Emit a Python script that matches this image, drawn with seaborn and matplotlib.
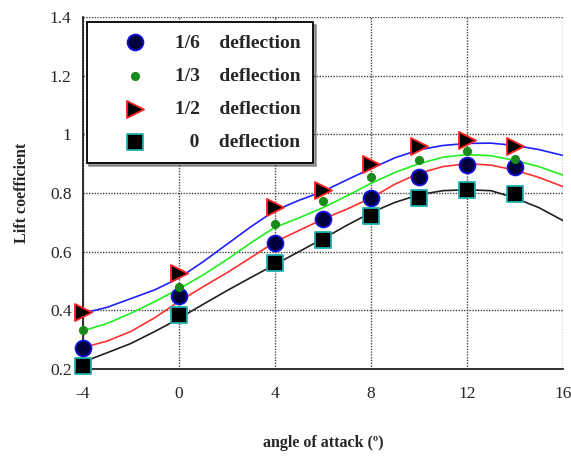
import matplotlib
matplotlib.use("Agg")
import matplotlib.pyplot as plt
import seaborn as sns
import pandas as pd

sns.set_style("white")
plt.rcParams['font.family'] = ['Liberation Serif', 'DejaVu Serif']
plt.rcParams['axes.unicode_minus'] = False

# measured points (angle of attack, lift coefficient)
alpha_pts = [-4, 0, 4, 6, 8, 10, 12, 14]
cl_sixth = [0.272, 0.45, 0.63, 0.711, 0.783, 0.856, 0.894, 0.889]
cl_third = [0.333, 0.48, 0.694, 0.774, 0.856, 0.911, 0.944, 0.917]
cl_half = [0.394, 0.528, 0.753, 0.811, 0.90, 0.959, 0.98, 0.961]
cl_zero = [0.21, 0.383, 0.561, 0.639, 0.722, 0.783, 0.811, 0.798]

# fitted curves
alpha_fit = list(range(-4, 17))
fit_blue = [0.39, 0.41, 0.44, 0.47, 0.51, 0.565, 0.625, 0.685, 0.74, 0.775, 0.805,
            0.845, 0.883, 0.92, 0.947, 0.962, 0.969, 0.97, 0.962, 0.948, 0.928]
fit_green = [0.33, 0.355, 0.39, 0.43, 0.473, 0.52, 0.573, 0.63, 0.683, 0.715, 0.75,
             0.79, 0.833, 0.87, 0.90, 0.922, 0.931, 0.927, 0.911, 0.89, 0.861]
fit_red = [0.273, 0.295, 0.328, 0.375, 0.43, 0.48, 0.528, 0.58, 0.633, 0.672, 0.711,
           0.745, 0.783, 0.83, 0.867, 0.89, 0.90, 0.895, 0.878, 0.853, 0.822]
fit_black = [0.224, 0.255, 0.287, 0.328, 0.372, 0.42, 0.467, 0.512, 0.556, 0.60, 0.644,
             0.69, 0.733, 0.768, 0.794, 0.808, 0.811, 0.808, 0.783, 0.75, 0.706]

fig, ax = plt.subplots(figsize=(5.71, 4.59), dpi=100)
fig.subplots_adjust(left=0.145, right=0.986, bottom=0.196, top=0.963)

# curves
for fit, col in [(fit_blue, '#2020ff'), (fit_green, '#20ee20'),
                 (fit_red, '#ff3030'), (fit_black, '#202020')]:
    sns.lineplot(x=alpha_fit, y=fit, ax=ax, color=col, linewidth=1.2, zorder=2)

# markers
series = [
    (cl_sixth, 'o', 130, '#00003a', '#1010e0', '1/6    deflection'),
    (cl_third, 'o', 28, '#1a8a1a', '#1a8a1a', '1/3    deflection'),
    (cl_half, '>', 150, '#000000', '#ff2020', '1/2    deflection'),
    (cl_zero, 's', 120, '#000000', '#20b0b0', '   0    deflection'),
]
handles = []
for vals, mk, sz, fc, ec, lab in series:
    sns.scatterplot(x=alpha_pts, y=vals, ax=ax, marker=mk, s=sz, color=fc,
                    edgecolor=ec, linewidth=1.3, zorder=3)
    ax.collections[-1].set_clip_on(False)
    handles.append(ax.collections[-1])
labels = [s[5] for s in series]

ax.set_xlim(-4, 16)
ax.set_ylim(0.2, 1.4)
ax.set_xticks([-4, 0, 4, 8, 12, 16])
ax.set_yticks([0.2, 0.4, 0.6, 0.8, 1.0, 1.2, 1.4])
ax.set_yticklabels(['0.2', '0.4', '0.6', '0.8', '1', '1.2', '1.4'])
ax.tick_params(axis='both', labelsize=12.5, direction='in', length=4, width=1,
               color='#333333')
ax.tick_params(axis='x', pad=12)
ax.tick_params(axis='y', pad=8)
ax.grid(True, color='#444444', linestyle=(0, (1, 1)), linewidth=1)

for side in ['top', 'right']:
    ax.spines[side].set_visible(False)
for side in ['left', 'bottom']:
    ax.spines[side].set_color('#222222')
    ax.spines[side].set_linewidth(1.3)

ax.set_xlabel('angle of attack (º)', fontsize=11.5, fontweight='bold', labelpad=24)
ax.set_ylabel('Lift coefficient', fontsize=11.5, fontweight='bold', labelpad=14)

leg = ax.legend(handles, labels, loc='upper left', bbox_to_anchor=(0.008, 0.986),
                borderaxespad=0, frameon=True, fancybox=False, shadow=True,
                prop={'weight': 'bold', 'size': 14}, labelspacing=0.8,
                handletextpad=0.25, borderpad=0.62, handlelength=3.7)
leg.get_frame().set_edgecolor('black')
leg.get_frame().set_linewidth(1.3)
leg.set_zorder(5)

fig.savefig('out.png', dpi=100)
